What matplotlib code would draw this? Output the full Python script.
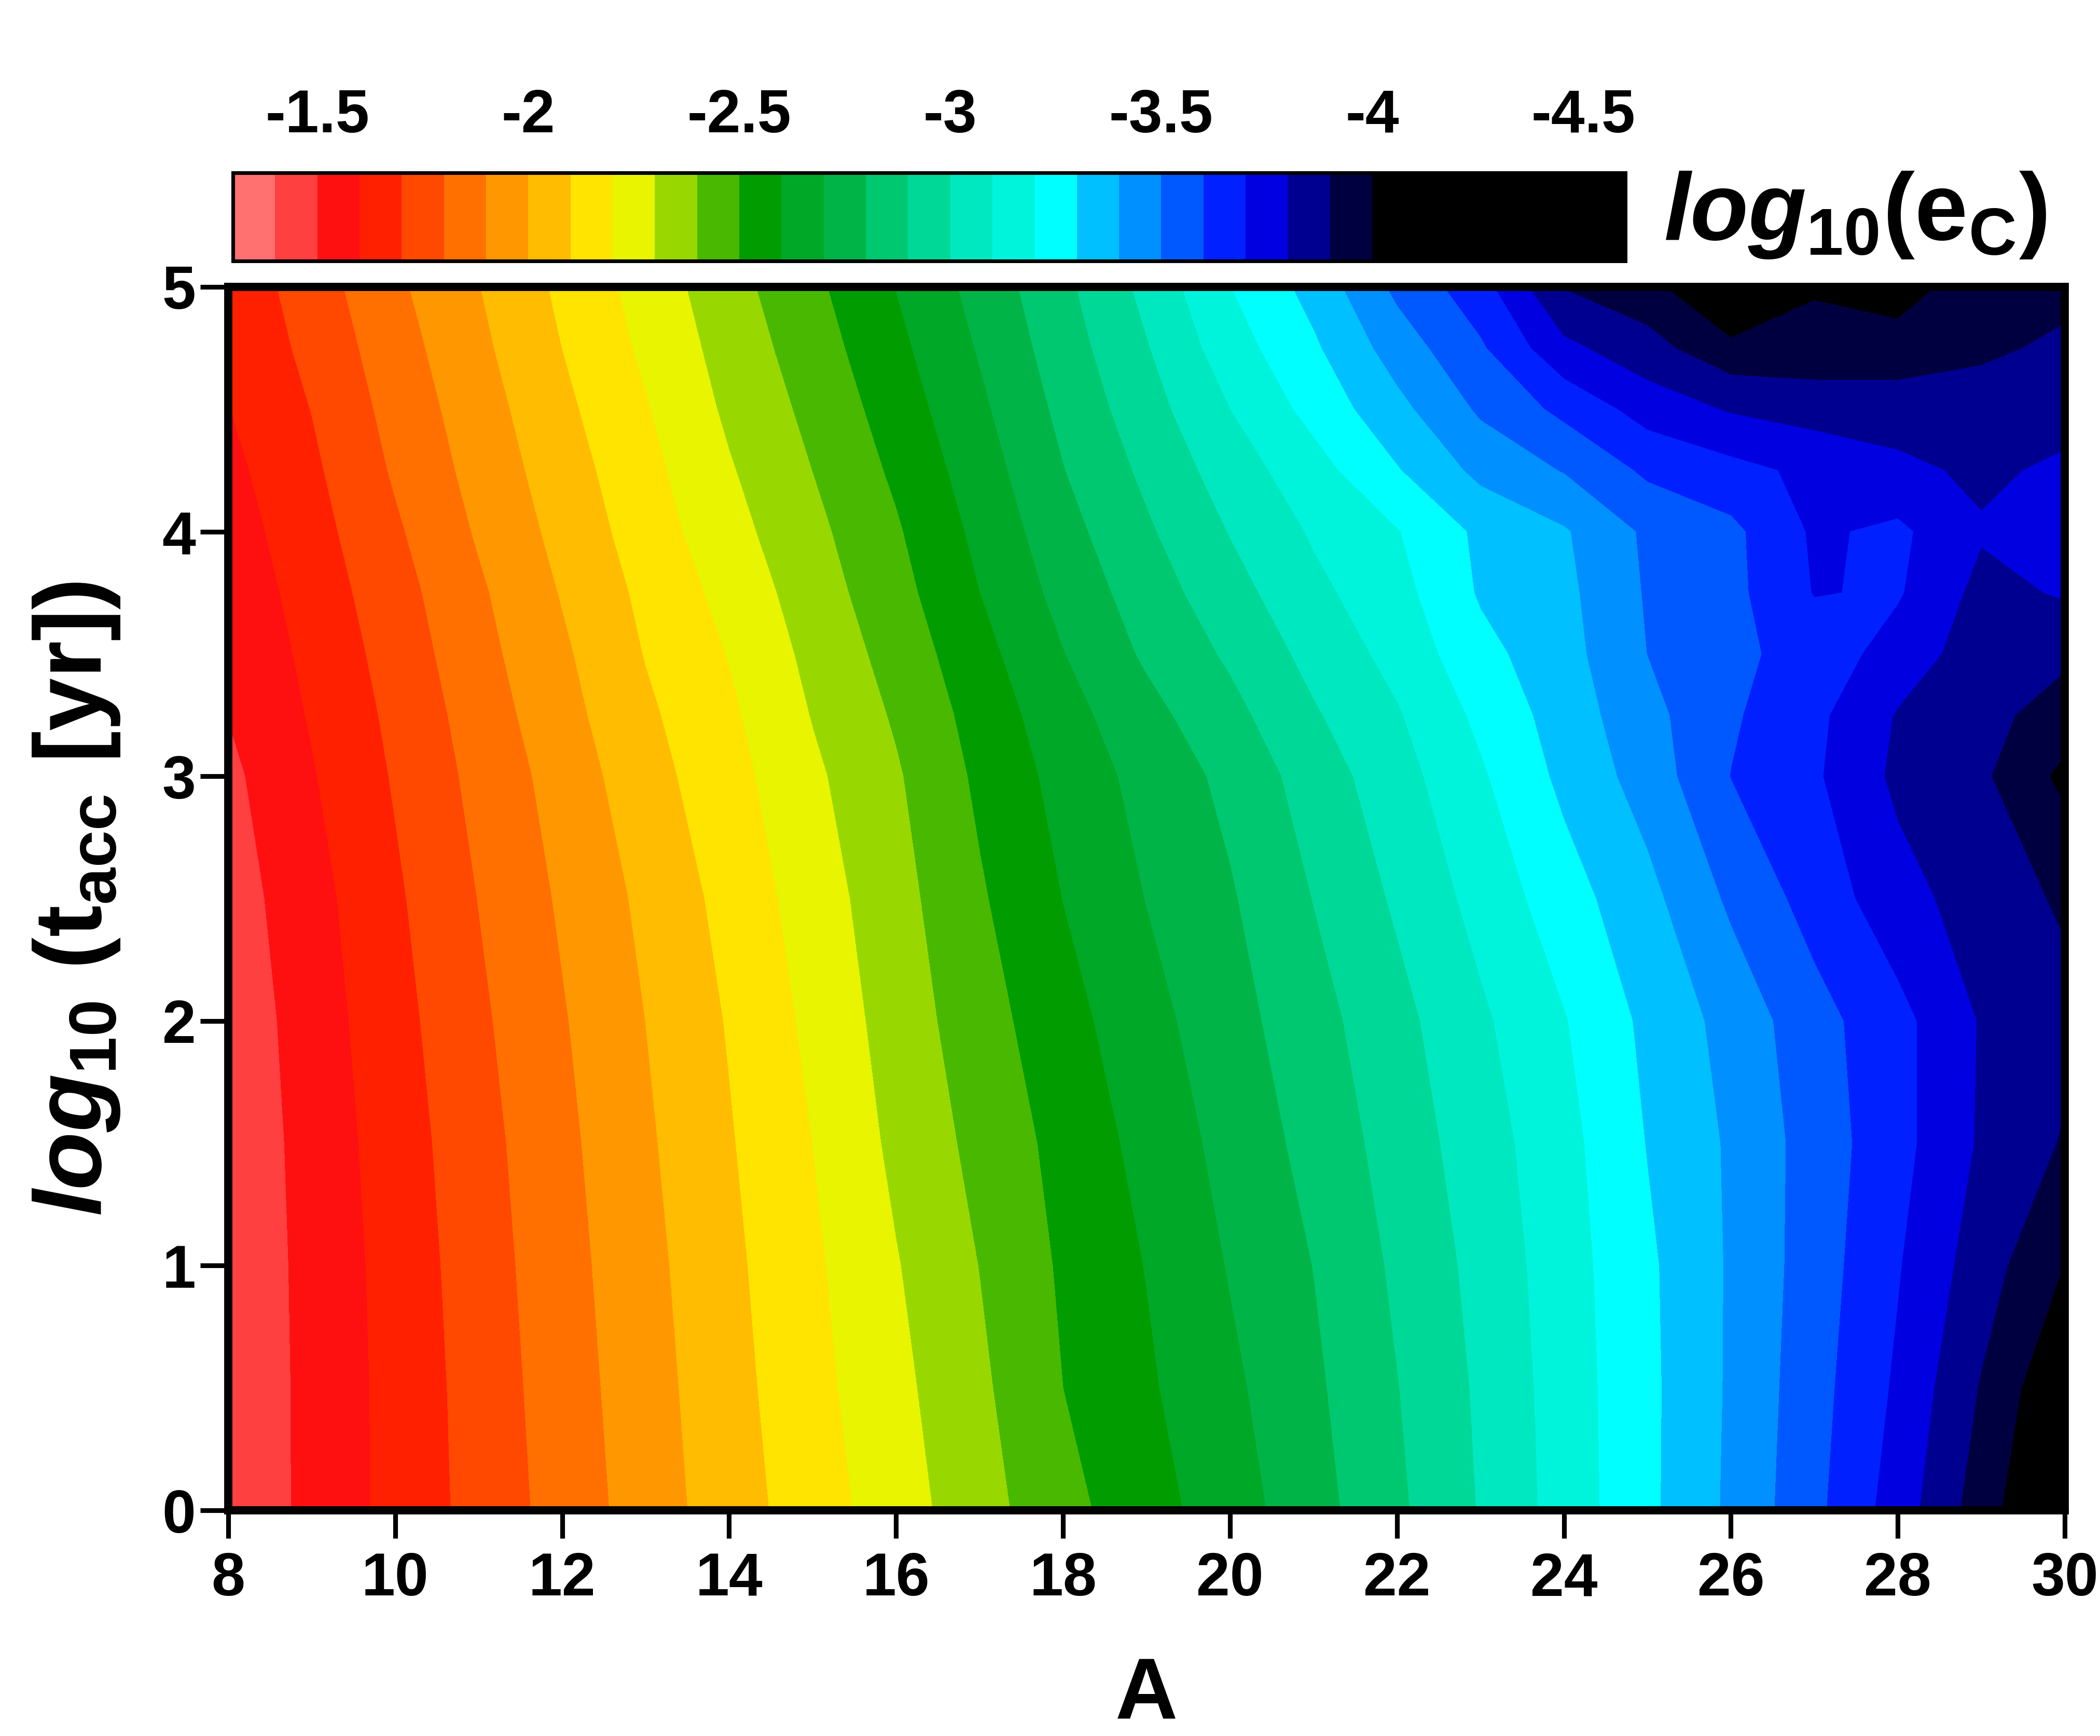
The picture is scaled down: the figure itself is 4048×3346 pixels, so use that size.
import numpy as np
import matplotlib
matplotlib.use("Agg")
import matplotlib.pyplot as plt

plt.rcParams["font.family"] = ["Liberation Sans", "DejaVu Sans"]
plt.rcParams["font.weight"] = "bold"
plt.rcParams["mathtext.fontset"] = "custom"
plt.rcParams["mathtext.rm"] = "Liberation Sans:bold"
plt.rcParams["mathtext.it"] = "Liberation Sans:bold:italic"
plt.rcParams["mathtext.bf"] = "Liberation Sans:bold"

# grid: mass number A (columns) and log10 accretion time (rows)
A_vals = list(range(8, 31))
log_tacc = [0.0, 0.5, 1.0, 1.5, 2.0, 2.5, 3.0, 3.25, 3.5, 3.75, 4.0, 4.25, 4.5, 4.75, 5.0]

# log10(ec), one list per log_tacc row
ec_t000 = [-1.420, -1.527, -1.632, -1.735, -1.840, -1.947, -2.053, -2.152, -2.253, -2.361, -2.468, -2.560,
           -2.653, -2.762, -2.881, -3.007, -3.142, -3.278, -3.419, -3.575, -3.748, -3.952, -4.150]
ec_t050 = [-1.422, -1.527, -1.633, -1.742, -1.851, -1.958, -2.065, -2.169, -2.273, -2.381, -2.500, -2.586,
           -2.679, -2.782, -2.897, -3.016, -3.148, -3.277, -3.414, -3.563, -3.717, -3.908, -4.100]
ec_t100 = [-1.424, -1.530, -1.639, -1.752, -1.862, -1.970, -2.077, -2.183, -2.294, -2.402, -2.514, -2.604,
           -2.707, -2.802, -2.918, -3.031, -3.156, -3.282, -3.412, -3.550, -3.693, -3.853, -4.003]
ec_t150 = [-1.426, -1.537, -1.650, -1.764, -1.875, -1.985, -2.092, -2.201, -2.322, -2.429, -2.532, -2.632,
           -2.734, -2.833, -2.943, -3.054, -3.167, -3.304, -3.414, -3.545, -3.667, -3.813, -3.910]
ec_t200 = [-1.434, -1.548, -1.666, -1.782, -1.892, -2.001, -2.108, -2.224, -2.344, -2.458, -2.563, -2.665,
           -2.762, -2.863, -2.969, -3.083, -3.194, -3.323, -3.436, -3.563, -3.669, -3.808, -3.870]
ec_t250 = [-1.452, -1.564, -1.685, -1.803, -1.914, -2.023, -2.133, -2.249, -2.364, -2.488, -2.602, -2.703,
           -2.790, -2.903, -3.015, -3.134, -3.256, -3.371, -3.518, -3.641, -3.762, -3.848, -3.915]
ec_t300 = [-1.477, -1.593, -1.710, -1.829, -1.941, -2.062, -2.164, -2.281, -2.389, -2.519, -2.634, -2.735,
           -2.826, -2.947, -3.060, -3.187, -3.324, -3.444, -3.602, -3.686, -3.822, -3.883, -4.026]
ec_t325 = [-1.503, -1.609, -1.724, -1.846, -1.965, -2.082, -2.182, -2.305, -2.412, -2.539, -2.661, -2.769,
           -2.870, -2.989, -3.091, -3.223, -3.346, -3.469, -3.587, -3.676, -3.808, -3.866, -3.950]
ec_t350 = [-1.514, -1.626, -1.741, -1.867, -1.984, -2.105, -2.205, -2.327, -2.438, -2.567, -2.697, -2.816,
           -2.916, -3.032, -3.133, -3.269, -3.363, -3.501, -3.577, -3.640, -3.745, -3.850, -3.880]
ec_t375 = [-1.532, -1.643, -1.761, -1.885, -2.007, -2.124, -2.233, -2.351, -2.465, -2.600, -2.732, -2.850,
           -2.962, -3.075, -3.165, -3.311, -3.375, -3.510, -3.572, -3.705, -3.690, -3.830, -3.790]
ec_t400 = [-1.552, -1.662, -1.786, -1.912, -2.031, -2.149, -2.265, -2.374, -2.489, -2.625, -2.764, -2.886,
           -3.005, -3.112, -3.195, -3.321, -3.390, -3.518, -3.576, -3.715, -3.680, -3.790, -3.750]
ec_t425 = [-1.573, -1.682, -1.813, -1.935, -2.053, -2.170, -2.291, -2.401, -2.518, -2.652, -2.797, -2.922,
           -3.049, -3.161, -3.293, -3.427, -3.506, -3.619, -3.668, -3.725, -3.775, -3.820, -3.780]
ec_t450 = [-1.598, -1.703, -1.835, -1.955, -2.077, -2.193, -2.318, -2.426, -2.547, -2.681, -2.825, -2.959,
           -3.100, -3.233, -3.371, -3.516, -3.626, -3.742, -3.810, -3.840, -3.850, -3.850, -3.840]
ec_t475 = [-1.615, -1.728, -1.857, -1.978, -2.101, -2.219, -2.340, -2.453, -2.575, -2.709, -2.852, -2.994,
           -3.154, -3.285, -3.447, -3.587, -3.775, -3.865, -3.970, -3.965, -3.955, -3.920, -3.880]
ec_t500 = [-1.630, -1.751, -1.881, -1.998, -2.121, -2.240, -2.363, -2.478, -2.603, -2.735, -2.877, -3.028,
           -3.199, -3.335, -3.524, -3.660, -3.905, -3.960, -4.150, -4.010, -4.050, -3.940, -3.930]

# contour levels (-4.6 .. -1.3 in 0.1 steps) and one colour per band, low -> high
levels = np.linspace(-4.6, -1.3, 34)
band_colors = ["#000000"] * 6 + [
    "#000040", "#000090", "#0000E0", "#0020FF", "#0058FF", "#0090FF", "#00C0FF",
    "#00FFFF", "#00F4DC", "#00E8C0", "#00D898", "#00C870", "#00B448", "#00A828",
    "#009C00", "#48B800", "#98D800", "#E8F400", "#FFE400", "#FFBC00", "#FF9800",
    "#FF7000", "#FF4800", "#FF2000", "#FF1010", "#FF4040", "#FF7070"]
cb_ticks = [-1.5, -2.0, -2.5, -3.0, -3.5, -4.0, -4.5]
cb_ticklabels = ["-1.5", "-2", "-2.5", "-3", "-3.5", "-4", "-4.5"]

Z = np.array([ec_t000, ec_t050, ec_t100, ec_t150, ec_t200, ec_t250, ec_t300, ec_t325,
              ec_t350, ec_t375, ec_t400, ec_t425, ec_t450, ec_t475, ec_t500])
AA, TT = np.meshgrid(A_vals, log_tacc)

W, H = 4048, 3346
fig = plt.figure(figsize=(W / 300, H / 300), dpi=300)
ax = fig.add_axes([440 / W, 1 - 2911 / H, 3540 / W, 2358 / H])

cf = ax.contourf(AA, TT, Z, levels=levels, colors=band_colors, antialiased=False)

ax.set_xlim(8, 30)
ax.set_ylim(0, 5)
ax.set_xticks(range(8, 31, 2))
ax.set_yticks(range(0, 6))
for s in ax.spines.values():
    s.set_linewidth(3.8)
ax.tick_params(direction="out", length=13, width=2.2, labelsize=28)
ax.tick_params(axis="x", pad=6)
ax.tick_params(axis="y", pad=2)

ax.set_xlabel("A", fontsize=40, fontweight="bold")
ax.xaxis.set_label_coords(0.5, -0.119)
ax.set_ylabel(r"$log_{10}\ (\mathrm{t}_{\mathrm{acc}}\ [\mathrm{yr}])$", fontsize=44)
ax.yaxis.set_label_coords(-0.058, 0.5)

# colour bar on top, reversed so high values sit on the left
cax = fig.add_axes([449 / W, 1 - 503 / H, 2684 / W, 170 / H])
cbar = fig.colorbar(cf, cax=cax, orientation="horizontal", ticklocation="top", drawedges=True)
cax.invert_xaxis()
cbar.set_ticks(cb_ticks, labels=cb_ticklabels)
cax.tick_params(axis="x", length=0, pad=13, labelsize=28)
cbar.outline.set_linewidth(1.7)
cbar.dividers.set_color("black")
cbar.dividers.set_linewidth(1.7)

fig.text(3207 / W, 1 - 415 / H, r"$log_{10}(\mathrm{e}_{\mathrm{C}})$", fontsize=44,
         ha="left", va="center")

fig.savefig("out.png", dpi=300)
